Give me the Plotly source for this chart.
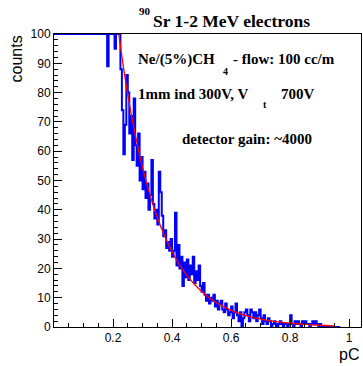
import plotly.graph_objects as go

# ---------------- data ----------------
bin_start = 0.0
bin_width = 0.005
counts = [
    # 0.000 - 0.175 (clipped at top)
    100, 100, 100, 100, 100, 100, 100, 100, 100, 100,
    100, 100, 100, 100, 100, 100, 100, 100, 100, 100,
    100, 100, 100, 100, 100, 100, 100, 100, 100, 100,
    100, 100, 100, 100, 100, 100,
    # 0.180 -
    89, 100, 100, 100, 100, 95, 100, 100, 100, 88,
    74, 59, 69, 86, 80, 66, 72, 57, 78, 62,
    55, 66, 50, 58, 47, 53, 44, 49, 40, 45,
    57, 42, 37, 40, 35, 53, 46, 38, 31, 33,
    27, 29, 26, 30, 24, 26, 39, 21, 28, 20,
    24, 14, 22, 17, 23, 16, 21, 18, 24, 15,
    19, 16, 21, 14, 12, 15, 11, 9, 11, 8,
    10, 9, 11, 7, 9, 6, 8, 9, 6, 5,
    8, 6, 4, 5, 7, 3, 5, 8, 4, 2,
    5, 0, 3, 5, 6, 4, 2, 6, 5, 3,
    5, 2, 4, 6, 3, 1, 4, 2, 1, 3,
    2, 0, 1, 2, 1, 0, 1, 2, 1, 0,
    1, 1, 0, 1, 4, 1, 0, 2, 1, 2,
    1, 0, 2, 1, 2, 1, 1, 0, 1, 2,
    1, 2, 1, 0, 1, 0, 0, 0, 0, 0,
    0, 0, 0, 0, 0, 0, 0, 0,
]

fit_x = [0.20, 0.25, 0.30, 0.35, 0.40, 0.45, 0.50, 0.55, 0.60, 0.65,
         0.70, 0.75, 0.80, 0.85, 0.90, 0.95]
fit_y = [115.0, 79.2, 54.4, 37.4, 25.7, 17.6, 12.1, 8.3, 5.7, 3.9,
         2.7, 1.86, 1.28, 0.88, 0.60, 0.41]

x_ticks = [0.2, 0.4, 0.6, 0.8, 1.0]
x_tick_labels = ["0.2", "0.4", "0.6", "0.8", "1"]
y_ticks = [0, 10, 20, 30, 40, 50, 60, 70, 80, 90, 100]

# ---------------- figure ----------------
W, H = 363, 366
L, R, T, B = 54, 361, 34, 327   # plot frame in pixels

edges = [bin_start + i * bin_width for i in range(len(counts) + 1)]
hx = edges
hy = counts + [counts[-1]]

fig = go.Figure()
fig.add_trace(go.Scatter(x=hx, y=hy, mode="lines", line=dict(color="#0000ff", width=2, shape="hv"),
                         hoverinfo="skip", showlegend=False))
fig.add_trace(go.Scatter(x=fit_x, y=fit_y, mode="lines",
                         line=dict(color="#ff0000", width=1.3, shape="spline", smoothing=1.0),
                         hoverinfo="skip", showlegend=False))

def px(xp):
    return (xp - L) / (R - L)

def py(yp):
    return (B - yp) / (B - T)

serif = "Liberation Serif"
sans = "Liberation Sans"

ann = []
def add(text, xp, yp, size, family=serif, xanchor="left", yanchor="middle", bold=True, angle=0):
    ann.append(dict(text=("<b>%s</b>" % text) if bold else text, x=px(xp), y=py(yp), xref="paper", yref="paper",
                    xanchor=xanchor, yanchor=yanchor, showarrow=False, textangle=angle,
                    font=dict(family=family, size=size, color="black")))

# title
add("90", 145, 11, 11, xanchor="center")
add("Sr 1-2 MeV electrons", 151, 21, 17.5)
# text lines
add("Ne/(5%)CH", 136, 59, 15)
add("4", 225, 71, 10, xanchor="center")
add("- flow: 100 cc/m", 231, 59, 15)
add("1mm ind 300V, V", 136, 94, 15)
add("t", 265, 104, 10, xanchor="center")
add("700V", 279, 94, 15)
add("detector gain: ~4000", 180, 139, 15)
# axis titles
add("counts", 16, 34, 16, family=sans, xanchor="center", yanchor="top", bold=False, angle=-90)
add("pC", 361, 354, 16, family=sans, xanchor="right", bold=False)

fig.update_layout(
    width=W, height=H,
    margin=dict(l=L, r=W - R, t=T, b=H - B, pad=0),
    paper_bgcolor="white", plot_bgcolor="white",
    annotations=ann,
    xaxis=dict(range=[0, 1.04], showgrid=False, zeroline=False, showline=True, linecolor="black", linewidth=1,
               mirror=True, ticks="inside", ticklen=8, tickcolor="black", tickwidth=1,
               tickvals=x_ticks, ticktext=x_tick_labels,
               tickfont=dict(family=sans, size=12, color="black"),
               minor=dict(dtick=0.05, tick0=0, ticks="inside", ticklen=4, tickcolor="black")),
    yaxis=dict(range=[0, 100], showgrid=False, zeroline=False, showline=True, linecolor="black", linewidth=1,
               mirror=True, ticks="inside", ticklen=8, tickcolor="black", tickwidth=1,
               tickvals=y_ticks,
               tickfont=dict(family=sans, size=12, color="black"),
               minor=dict(dtick=2, tick0=0, ticks="inside", ticklen=4, tickcolor="black")),
)

fig.write_html("out.html", config={"displayModeBar": False},
               post_script="document.body.style.margin='0';document.body.style.overflow='hidden';")
